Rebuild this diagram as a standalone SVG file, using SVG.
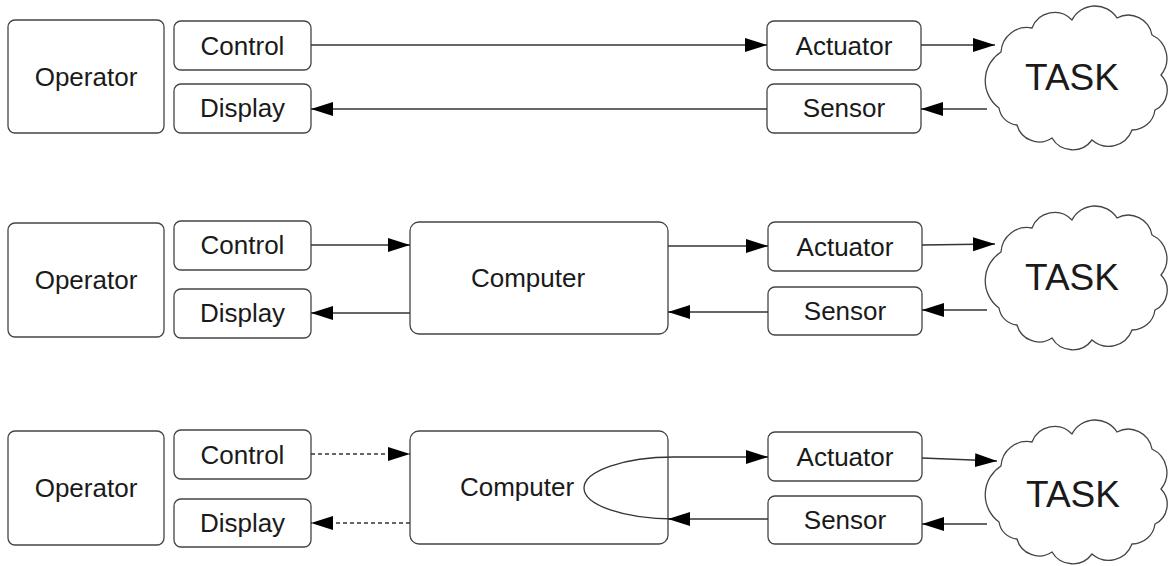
<svg xmlns="http://www.w3.org/2000/svg" xmlns:xlink="http://www.w3.org/1999/xlink" width="1170" height="566" viewBox="0 0 1170 566">
<style>
.box{fill:#fff;stroke:#444;stroke-width:1.3}
.lbl{font-family:"Liberation Sans",Arial,sans-serif;font-size:26px;fill:#1a1a1a;text-anchor:middle}
.task{font-family:"Liberation Sans",Arial,sans-serif;font-size:37px;fill:#1a1a1a;text-anchor:middle}
.ln{fill:none;stroke:#333;stroke-width:1.3;marker-end:url(#ah)}
.dash{stroke-dasharray:4 3}
.cloud{fill:#fff;stroke:#444;stroke-width:1.3}
</style>
<defs>
<marker id="ah" markerUnits="userSpaceOnUse" markerWidth="23" markerHeight="15" refX="22" refY="7" orient="auto">
<path d="M0,0 L22,7 L0,14 z" fill="#000"/>
</marker>
<path id="cl" d="M-76,-28 A26,26 0 0 1 -45,-52 A24,24 0 0 1 -5,-60 A26,26 0 0 1 40,-62 A24,24 0 0 1 75,-45 A26,26 0 0 1 84,-5 A22,22 0 0 1 78,30 A23,23 0 0 1 55,50 A25,25 0 0 1 15,60 A24,24 0 0 1 -25,58 A23,23 0 0 1 -60,45 A20,20 0 0 1 -78,28 A34,34 0 0 1 -76,-28 Z"/>
</defs>
<rect width="1170" height="566" fill="#fff"/>

<g id="operator1"><rect class="box" x="8" y="20" width="156" height="113" rx="7"/><text class="lbl" x="86" y="86">Operator</text></g>
<g id="control1"><rect class="box" x="174" y="21" width="137" height="49" rx="7"/><text class="lbl" x="242.5" y="55">Control</text></g>
<g id="display1"><rect class="box" x="174" y="84" width="137" height="49" rx="7"/><text class="lbl" x="242.5" y="117">Display</text></g>
<g id="actuator1"><rect class="box" x="767" y="21" width="154" height="49" rx="7"/><text class="lbl" x="844" y="55">Actuator</text></g>
<g id="sensor1"><rect class="box" x="767" y="84" width="154" height="49" rx="7"/><text class="lbl" x="844" y="117">Sensor</text></g>
<g id="task1"><use xlink:href="#cl" href="#cl" class="cloud" transform="translate(1077,80)"/><text class="task" x="1072" y="90">TASK</text></g>

<g id="operator2"><rect class="box" x="8" y="223" width="156" height="114" rx="7"/><text class="lbl" x="86" y="289">Operator</text></g>
<g id="control2"><rect class="box" x="174" y="221" width="137" height="49" rx="7"/><text class="lbl" x="242.5" y="254">Control</text></g>
<g id="display2"><rect class="box" x="174" y="289" width="137" height="49" rx="7"/><text class="lbl" x="242.5" y="322">Display</text></g>
<g id="computer2"><rect class="box" x="410" y="222" width="258" height="112" rx="9"/><text class="lbl" x="528" y="287">Computer</text></g>
<g id="actuator2"><rect class="box" x="768" y="222" width="154" height="49" rx="7"/><text class="lbl" x="845" y="256">Actuator</text></g>
<g id="sensor2"><rect class="box" x="768" y="287" width="154" height="48" rx="7"/><text class="lbl" x="845" y="320">Sensor</text></g>
<g id="task2"><use xlink:href="#cl" href="#cl" class="cloud" transform="translate(1077,280)"/><text class="task" x="1072" y="290">TASK</text></g>

<g id="operator3"><rect class="box" x="8" y="431" width="156" height="114" rx="7"/><text class="lbl" x="86" y="497">Operator</text></g>
<g id="control3"><rect class="box" x="174" y="430" width="137" height="49" rx="7"/><text class="lbl" x="242.5" y="464">Control</text></g>
<g id="display3"><rect class="box" x="174" y="499" width="137" height="48" rx="7"/><text class="lbl" x="242.5" y="532">Display</text></g>
<g id="computer3"><rect class="box" x="410" y="431" width="258" height="113" rx="9"/><text class="lbl" x="517" y="496">Computer</text></g>
<g id="actuator3"><rect class="box" x="768" y="432" width="154" height="49" rx="7"/><text class="lbl" x="845" y="466">Actuator</text></g>
<g id="sensor3"><rect class="box" x="768" y="496" width="154" height="48" rx="7"/><text class="lbl" x="845" y="529">Sensor</text></g>
<g id="task3"><use xlink:href="#cl" href="#cl" class="cloud" transform="translate(1077,494)"/><text class="task" x="1073" y="507">TASK</text></g>

<g id="connectors">
<line class="ln" x1="311" y1="45" x2="767" y2="45"/>
<line class="ln" x1="767" y1="109" x2="311" y2="109"/>
<line class="ln" x1="921" y1="45" x2="995" y2="45"/>
<line class="ln" x1="987" y1="109" x2="921" y2="109"/>

<line class="ln" x1="311" y1="245" x2="410" y2="245"/>
<line class="ln" x1="410" y1="313" x2="311" y2="313"/>
<line class="ln" x1="668" y1="246" x2="768" y2="246"/>
<line class="ln" x1="768" y1="312" x2="668" y2="312"/>
<line class="ln" x1="922" y1="245" x2="995" y2="244"/>
<line class="ln" x1="987" y1="310" x2="922" y2="310"/>

<line class="ln dash" x1="311" y1="454" x2="410" y2="454"/>
<line class="ln dash" x1="410" y1="523" x2="311" y2="523"/>
<path class="ln" d="M674,519 A90,31 0 0 1 674,457 L768,457"/>
<line class="ln" x1="768" y1="519" x2="668" y2="519"/>
<line class="ln" x1="922" y1="458" x2="997" y2="461"/>
<line class="ln" x1="987" y1="524" x2="922" y2="524"/>
</g>
</svg>
